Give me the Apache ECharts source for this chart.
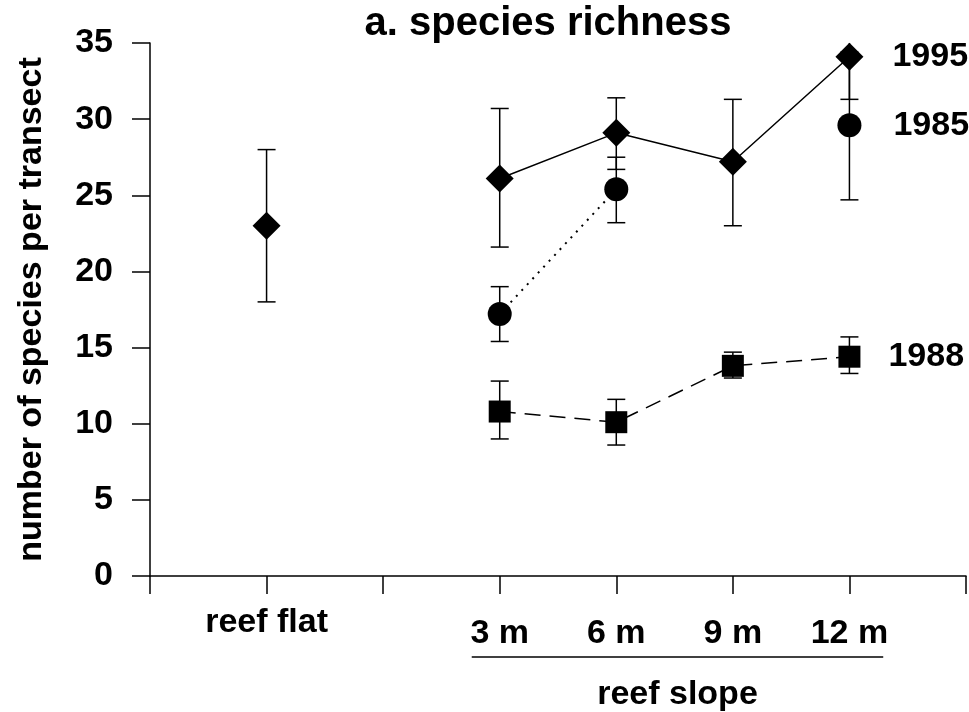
<!DOCTYPE html>
<html>
<head>
<meta charset="utf-8">
<title>a. species richness</title>
<script src="https://cdn.jsdelivr.net/npm/echarts@6/dist/echarts.min.js"></script>
<style>
  html, body { margin: 0; padding: 0; background: #fff; }
  #chart { width: 969px; height: 712px; }
</style>
</head>
<body>
<div id="chart"></div>
<script>
// sites along the transect: reef flat, then reef slope depths
const siteLabels = ["reef flat", "3 m", "6 m", "9 m", "12 m"];
const sitePos = [1, 3, 4, 5, 6];

// mean species per transect and error bar ends (null = not sampled)
const mean1995 = [23.0, 26.1, 29.1, 27.2, 34.1];
const low1995 = [18.0, 21.6, 26.7, 23.0, 31.3];
const high1995 = [28.0, 30.7, 31.4, 31.3, 36.9];

const mean1985 = [null, 17.2, 25.4, null, 29.6];
const low1985 = [null, 15.4, 23.2, null, 24.7];
const high1985 = [null, 19.0, 27.5, null, 34.4];

const mean1988 = [null, 10.8, 10.1, 13.8, 14.4];
const low1988 = [null, 9.0, 8.6, 13.0, 13.3];
const high1988 = [null, 12.8, 11.6, 14.7, 15.7];

const yTicks = [0, 5, 10, 15, 20, 25, 30, 35];

const FONT = "'Liberation Sans', Arial, sans-serif";
const Y_MAX = 35;

// line data; a gap is put between the reef flat and the slope
function lineData(means) {
  const out = [];
  sitePos.forEach((x, i) => {
    out.push([x, means[i] == null ? "-" : means[i]]);
    if (i === 0) out.push([2, "-"]);
  });
  return out;
}

function errData(lows, highs) {
  const out = [];
  sitePos.forEach((x, i) => {
    if (lows[i] != null) out.push([x, lows[i], highs[i]]);
  });
  return out;
}

function renderErr(params, api) {
  const x = api.value(0);
  const lo = api.value(1);
  let hi = api.value(2);
  const capTop = hi <= Y_MAX;
  if (!capTop) hi = Y_MAX;
  const pLo = api.coord([x, lo]);
  const pHi = api.coord([x, hi]);
  const w = 9;
  const style = { stroke: "#000", lineWidth: 1.5 };
  const children = [
    { type: "line", shape: { x1: pLo[0], y1: pLo[1], x2: pHi[0], y2: pHi[1] }, style: style },
    { type: "line", shape: { x1: pLo[0] - w, y1: pLo[1], x2: pLo[0] + w, y2: pLo[1] }, style: style },
  ];
  if (capTop) {
    children.push({ type: "line", shape: { x1: pHi[0] - w, y1: pHi[1], x2: pHi[0] + w, y2: pHi[1] }, style: style });
  }
  return { type: "group", children: children };
}

function endLabel(text, dist) {
  return {
    show: true,
    position: "right",
    distance: dist,
    color: "#000",
    fontFamily: FONT,
    fontWeight: "bold",
    fontSize: 34,
    formatter: (p) => (p.value[0] === 6 ? text : ""),
  };
}

const chart = echarts.init(document.getElementById("chart"));

const option = {
  backgroundColor: "#fff",
  animation: false,
  title: {
    text: "a. species richness",
    left: 548,
    top: 4,
    textAlign: "center",
    padding: 0,
    textStyle: { fontFamily: FONT, fontWeight: "bold", fontSize: 40, color: "#000" },
  },
  grid: { left: 150, right: 3, top: 43, bottom: 136 },
  xAxis: {
    type: "value",
    min: 0,
    max: 7,
    interval: 1,
    splitLine: { show: false },
    axisLine: { lineStyle: { color: "#000", width: 1.5 } },
    axisTick: { inside: false, length: 18, lineStyle: { color: "#000", width: 1.5 } },
    axisLabel: {
      margin: 30,
      color: "#000",
      formatter: (v) => {
        const i = sitePos.indexOf(v);
        if (i < 0) return "";
        return i === 0 ? "{a|" + siteLabels[i] + "}" : "{b|" + siteLabels[i] + "}";
      },
      rich: {
        a: { fontFamily: FONT, fontWeight: "bold", fontSize: 34, color: "#000" },
        b: { fontFamily: FONT, fontWeight: "bold", fontSize: 34, color: "#000", padding: [11, 0, 0, 0] },
      },
    },
  },
  yAxis: {
    type: "value",
    min: yTicks[0],
    max: yTicks[yTicks.length - 1],
    interval: 5,
    splitLine: { show: false },
    axisLine: { show: true, lineStyle: { color: "#000", width: 1.5 } },
    axisTick: { show: true, inside: false, length: 18, lineStyle: { color: "#000", width: 1.5 } },
    axisLabel: { margin: 37, color: "#000", fontFamily: FONT, fontWeight: "bold", fontSize: 34 },
    name: "number of species per transect",
    nameLocation: "middle",
    nameGap: 101,
    nameTextStyle: { fontFamily: FONT, fontWeight: "bold", fontSize: 34, color: "#000" },
  },
  series: [
    {
      type: "custom",
      renderItem: renderErr,
      data: errData(low1995, high1995).concat(errData(low1985, high1985), errData(low1988, high1988)),
      encode: { x: 0, y: [1, 2] },
      z: 1,
      silent: true,
    },
    {
      name: "1995",
      type: "line",
      data: lineData(mean1995),
      symbol: "diamond",
      symbolSize: 28,
      itemStyle: { color: "#000" },
      lineStyle: { color: "#000", width: 1.5, type: "solid" },
      label: endLabel("1995", 29),
      z: 3,
    },
    {
      name: "1985",
      type: "line",
      data: lineData(mean1985),
      symbol: "circle",
      symbolSize: 24,
      itemStyle: { color: "#000" },
      lineStyle: { color: "#000", width: 2, type: [2, 6] },
      label: endLabel("1985", 32),
      z: 3,
    },
    {
      name: "1988",
      type: "line",
      data: lineData(mean1988),
      symbol: "rect",
      symbolSize: 22,
      itemStyle: { color: "#000" },
      lineStyle: { color: "#000", width: 1.5, type: [16, 9] },
      label: endLabel("1988", 28),
      z: 3,
    },
  ],
};

chart.setOption(option);

// bracket under the reef slope depths
const slopeFrom = 2.76;
const slopeTo = 6.29;
const x0 = chart.convertToPixel({ xAxisIndex: 0 }, slopeFrom);
const x1 = chart.convertToPixel({ xAxisIndex: 0 }, slopeTo);
chart.setOption({
  graphic: [
    { type: "line", shape: { x1: x0, y1: 657, x2: x1, y2: 657 }, style: { stroke: "#000", lineWidth: 1.5 } },
    {
      type: "text",
      x: (x0 + x1) / 2,
      y: 695,
      style: {
        text: "reef slope",
        align: "center",
        verticalAlign: "middle",
        fontFamily: FONT,
        fontWeight: "bold",
        fontSize: 34,
        fill: "#000",
      },
    },
  ],
});
</script>
</body>
</html>
